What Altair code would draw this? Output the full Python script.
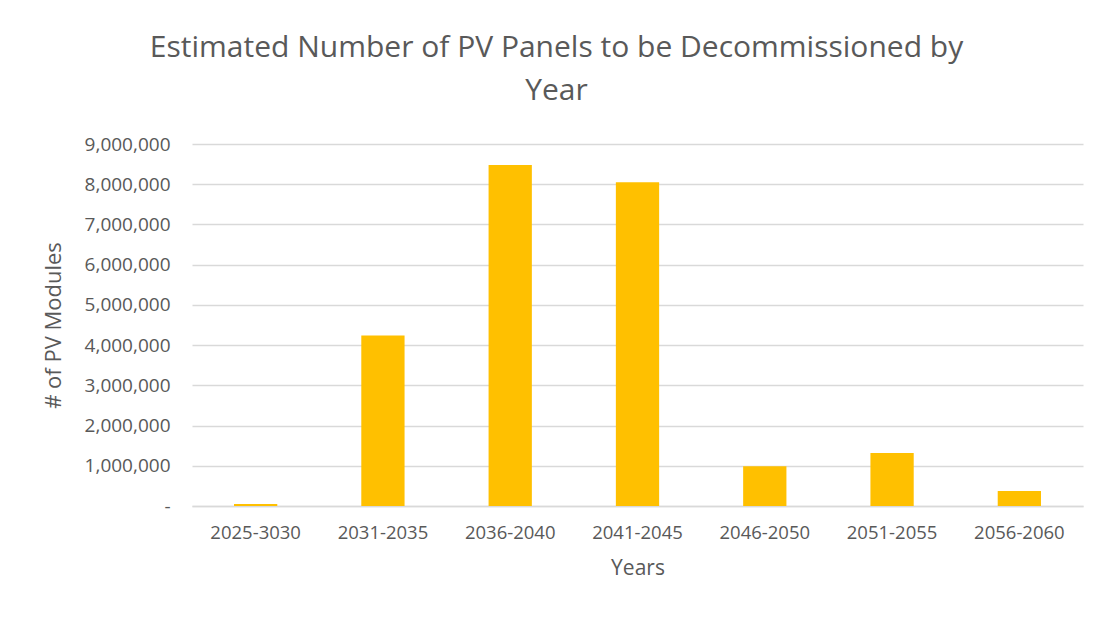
import altair as alt
import pandas as pd

categories = ["2025-3030", "2031-2035", "2036-2040", "2041-2045", "2046-2050", "2051-2055", "2056-2060"]
modules = [50000, 4240000, 8480000, 8050000, 990000, 1320000, 370000]
y_ticks = [0, 1000000, 2000000, 3000000, 4000000, 5000000, 6000000, 7000000, 8000000, 9000000]

df = pd.DataFrame({"Years": categories, "Modules": modules})

FONT = "Open Sans"
GRAY = "#595959"

chart = alt.Chart(df).mark_bar(color="#FFC000").encode(
    x=alt.X("Years:N", sort=categories,
            scale=alt.Scale(paddingInner=0.66, paddingOuter=0.33),
            axis=alt.Axis(title="Years", labelAngle=0, labelFont=FONT, labelFontSize=18.5,
                          labelColor=GRAY, titleFont=FONT, titleFontSize=21, titleColor=GRAY,
                          titleFontWeight="normal", labelPadding=17, titlePadding=16,
                          ticks=False, domain=True, domainColor="#d9d9d9", domainWidth=1.5,
                          grid=False)),
    y=alt.Y("Modules:Q", scale=alt.Scale(domain=[0, 9000000], nice=False),
            axis=alt.Axis(title="# of PV Modules", values=y_ticks,
                          labelExpr="datum.value == 0 ? '-' : format(datum.value, ',')",
                          labelFont=FONT, labelFontSize=19, labelColor=GRAY,
                          titleFont=FONT, titleFontSize=22, titleColor=GRAY,
                          titleFontWeight="normal", labelPadding=22, titlePadding=19,
                          ticks=False, domain=False, grid=True, gridColor="#d9d9d9",
                          gridWidth=1.5)),
).properties(
    width=891,
    height=362,
    title=alt.Title(["Estimated Number of PV Panels to be Decommissioned by", "Year"],
                    font=FONT, fontSize=30, color=GRAY, fontWeight="normal",
                    anchor="middle", dx=-81, lineHeight=43, offset=29),
    autosize=alt.AutoSizeParams(type="none"),
    padding={"left": 184, "top": 136, "right": 8, "bottom": 100},
).configure_view(stroke=None)

chart.save("out.html", embed_options={"renderer": "svg", "actions": False})
